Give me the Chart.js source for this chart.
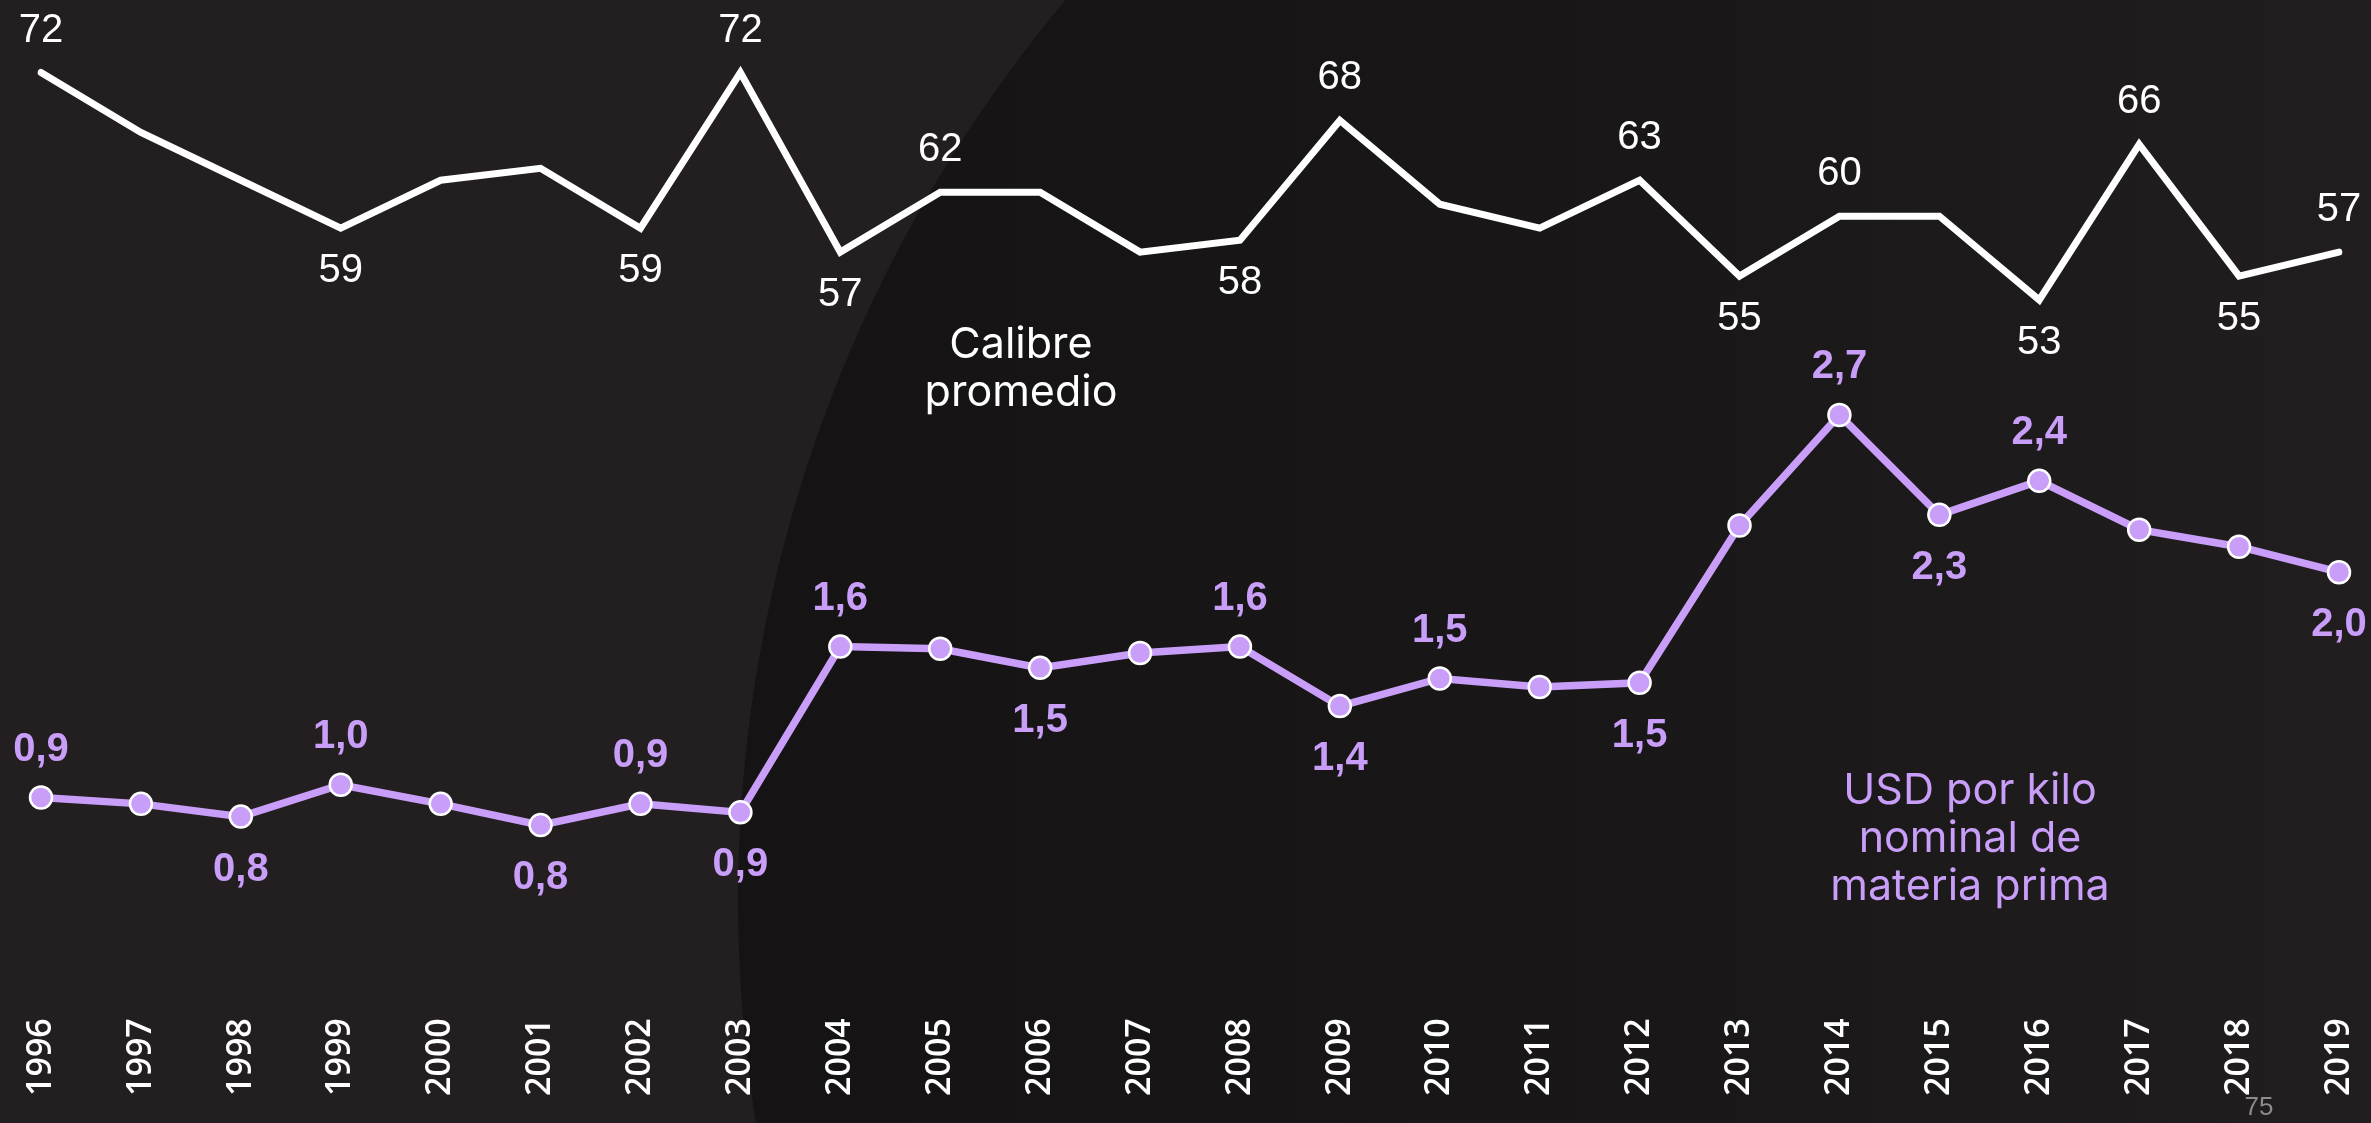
<!DOCTYPE html>
<html><head><meta charset="utf-8">
<script src="https://cdn.jsdelivr.net/npm/chart.js@4.4.1/dist/chart.umd.min.js"></script>
<style>html,body{margin:0;padding:0;background:#231f20;overflow:hidden}canvas{display:block}</style>
</head><body>
<canvas id="c" width="2371" height="1123"></canvas>
<script>
const years = ['1996','1997','1998','1999','2000','2001','2002','2003','2004','2005','2006','2007','2008','2009','2010','2011','2012','2013','2014','2015','2016','2017','2018','2019'];
const calibre = [72,67,63,59,63,64,59,72,57,62,62,57,58,68,61,59,63,55,60,60,53,66,55,57];
const usdKilo = [0.93,0.90,0.84,0.99,0.90,0.80,0.90,0.86,1.64,1.63,1.54,1.61,1.64,1.36,1.49,1.45,1.47,2.21,2.73,2.26,2.42,2.19,2.11,1.99];
const calibreLabelPos = ['above',null,null,'below',null,null,'below','above','below','above',null,null,'below','above',null,null,'above','below','above',null,'below','above','below','above'];
const usdLabelPos = ['above',null,'below','above',null,'below','above','below','above',null,'below',null,'above','below','above',null,'below',null,'above','below','above',null,null,'below'];
const calibreTitle = ['Calibre', 'promedio'];
const usdTitle = ['USD por kilo', 'nominal de', 'materia prima'];
const pageNumber = '75';

const WHITE = '#ffffff';
const PURPLE = '#c99ef8';

const bgPlugin = {
  id: 'bg',
  beforeDraw(chart) {
    const c = chart.ctx, w = chart.width, h = chart.height;
    c.save();
    c.fillStyle = '#231f20';
    c.fillRect(0, 0, w, h);
    const g = c.createLinearGradient(740, 0, w, 0);
    g.addColorStop(0, '#151314');
    g.addColorStop(0.55, '#191718');
    g.addColorStop(1, '#221e1f');
    c.fillStyle = g;
    c.beginPath();
    c.arc(2139, 900, 1401, 0, Math.PI * 2);
    c.fill();
    c.restore();
  }
};

const labelPlugin = {
  id: 'vlabels',
  afterDatasetsDraw(chart) {
    const c = chart.ctx;
    c.save();
    c.textAlign = 'center';
    c.textBaseline = 'middle';
    const m0 = chart.getDatasetMeta(0);
    c.fillStyle = WHITE;
    c.font = '40px "Liberation Sans", Arial, sans-serif';
    m0.data.forEach((pt, i) => {
      const pos = calibreLabelPos[i];
      if (!pos) return;
      const dy = pos === 'above' ? -42 : 43;
      c.fillText(String(Math.round(calibre[i])), pt.x, pt.y + dy);
    });
    const m1 = chart.getDatasetMeta(1);
    c.fillStyle = PURPLE;
    c.font = 'bold 40px "Liberation Sans", Arial, sans-serif';
    m1.data.forEach((pt, i) => {
      const pos = usdLabelPos[i];
      if (!pos) return;
      const dy = pos === 'above' ? -48 : 53;
      c.fillText(usdKilo[i].toFixed(1).replace('.', ','), pt.x, pt.y + dy);
    });
    c.font = '43px Inter, Lato, sans-serif';
    c.fillStyle = WHITE;
    calibreTitle.forEach((t, k) => c.fillText(t, 1021, 345 + k * 48));
    c.fillStyle = PURPLE;
    usdTitle.forEach((t, k) => c.fillText(t, 1970, 791 + k * 48));
    c.fillStyle = '#8c8c8c';
    c.font = '26px "Liberation Sans Narrow", "Liberation Sans", Arial, sans-serif';
    c.fillText(pageNumber, 2259, 1108);
    c.restore();
  }
};

new Chart(document.getElementById('c').getContext('2d'), {
  type: 'line',
  data: {
    labels: years,
    datasets: [
      { label: 'Calibre promedio', data: calibre, yAxisID: 'yCal', borderColor: WHITE, borderWidth: 7,
        pointRadius: 0, tension: 0, borderJoinStyle: 'miter', borderCapStyle: 'round' },
      { label: 'USD por kilo nominal de materia prima', data: usdKilo, yAxisID: 'yUsd', borderColor: PURPLE, borderWidth: 7.5,
        pointRadius: 11, pointBackgroundColor: PURPLE, pointBorderColor: WHITE, pointBorderWidth: 2.5, tension: 0 }
    ]
  },
  options: {
    responsive: false, animation: false, events: [],
    layout: { autoPadding: false, padding: { left: 41, right: 32, top: 0, bottom: 19 } },
    plugins: { legend: { display: false }, tooltip: { enabled: false } },
    scales: {
      x: { grid: { display: false, drawTicks: false }, border: { display: false },
           afterFit(scale) { scale.paddingRight = 0; scale.paddingLeft = 0; },
           ticks: { color: WHITE, font: { family: '"Open Sans", sans-serif', weight: 600, size: 34, lineHeight: 0.9 },
                    maxRotation: 90, minRotation: 90, autoSkip: false, padding: 8 } },
      yCal: { display: false, min: -6.333, max: 78.06 },
      yUsd: { display: false, min: -0.0711, max: 4.6828 }
    }
  },
  plugins: [bgPlugin, labelPlugin]
});
</script>
</body></html>
